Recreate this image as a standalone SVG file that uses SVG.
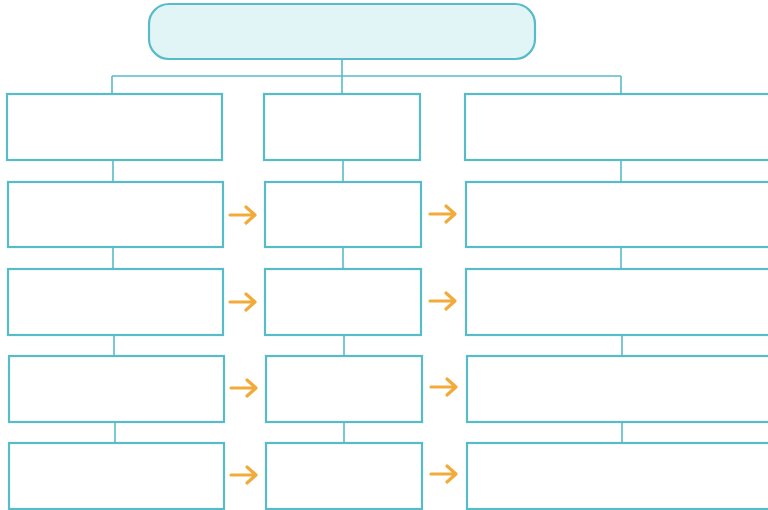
<svg xmlns="http://www.w3.org/2000/svg" width="768" height="510" viewBox="0 0 768 510">
  <defs>
    <style>
      .box { fill: #ffffff; stroke: #58bcc8; stroke-width: 2.2; }
      .top { fill: #e2f5f6; stroke: #58bcc8; stroke-width: 2.2; }
      .line { fill: none; stroke: #58bcc8; stroke-width: 1.6; }
      .arrow { fill: none; stroke: #f2ab3a; stroke-width: 3.2; stroke-linecap: round; stroke-linejoin: round; }
    </style>
  </defs>
  <rect width="768" height="510" fill="#ffffff"/>
  <g id="connectors">
    <path class="line" d="M342 59 V94 M112 76 H621 M112 76 V94 M621 76 V94"/>
    <path class="line" d="M113 160 V182 M113 247 V269 M114 335 V356 M115 422 V443"/>
    <path class="line" d="M343 160 V182 M343 247 V269 M344 335 V356 M344 422 V443"/>
    <path class="line" d="M621 160 V182 M621 247 V269 M622 335 V356 M622 422 V443"/>
    <g class="arrow">
      <path d="M230 215 H254 M246 207 L255 215 L246 223"/>
      <path d="M230 302 H254 M246 294 L255 302 L246 310"/>
      <path d="M231 388 H255 M247 380 L256 388 L247 396"/>
      <path d="M231 475 H255 M247 467 L256 475 L247 483"/>
      <path d="M430 214 H454 M446 206 L455 214 L446 222"/>
      <path d="M430 301 H454 M446 293 L455 301 L446 309"/>
      <path d="M431 387 H455 M447 379 L456 387 L447 395"/>
      <path d="M431 474 H455 M447 466 L456 474 L447 482"/>
    </g>
  </g>
  <g id="title"><rect class="top" x="149" y="4" width="386" height="55" rx="20"/></g>
  <g id="c1r1"><rect class="box" x="7" y="94" width="215" height="66"/></g>
  <g id="c1r2"><rect class="box" x="8" y="182" width="215" height="65"/></g>
  <g id="c1r3"><rect class="box" x="8" y="269" width="215" height="66"/></g>
  <g id="c1r4"><rect class="box" x="9" y="356" width="215" height="66"/></g>
  <g id="c1r5"><rect class="box" x="9" y="443" width="215" height="66"/></g>
  <g id="c2r1"><rect class="box" x="264" y="94" width="156" height="66"/></g>
  <g id="c2r2"><rect class="box" x="265" y="182" width="156" height="65"/></g>
  <g id="c2r3"><rect class="box" x="265" y="269" width="156" height="66"/></g>
  <g id="c2r4"><rect class="box" x="266" y="356" width="156" height="66"/></g>
  <g id="c2r5"><rect class="box" x="266" y="443" width="156" height="66"/></g>
  <g id="c3r1"><rect class="box" x="465" y="94" width="320" height="66"/></g>
  <g id="c3r2"><rect class="box" x="466" y="182" width="320" height="65"/></g>
  <g id="c3r3"><rect class="box" x="466" y="269" width="320" height="66"/></g>
  <g id="c3r4"><rect class="box" x="467" y="356" width="320" height="66"/></g>
  <g id="c3r5"><rect class="box" x="467" y="443" width="320" height="66"/></g>
</svg>
